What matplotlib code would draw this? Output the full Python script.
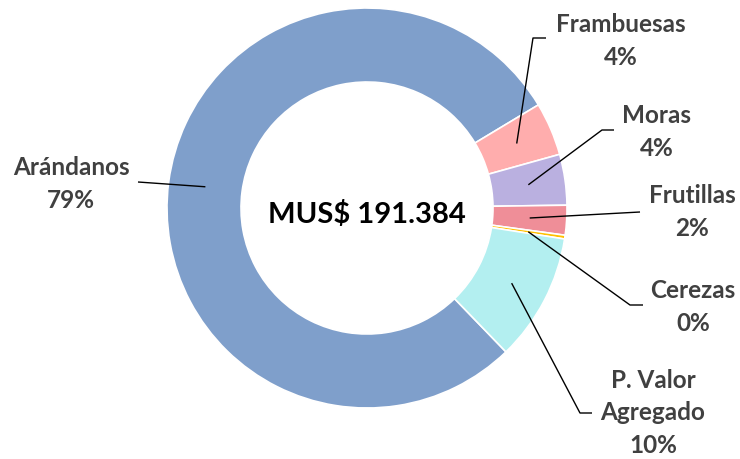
import matplotlib.pyplot as plt
import numpy as np

W, H = 740, 459

categories = ["Arándanos", "Frambuesas", "Moras", "Frutillas", "Cerezas", "P. Valor\nAgregado"]
shares = [78.6, 4.3, 4.1, 2.4, 0.3, 10.3]
colors = ["#7F9FCB", "#FFADAD", "#BAB0E0", "#EF8E98", "#FFC000", "#B3EFF0"]
total_label = "MUS$ 191.384"

# layout in image pixels (y from top)
center = (367, 208)
r_out, r_in = 200, 126
label_pos = [(71, 184), (621, 41), (657, 132), (692, 212), (693, 307), (653, 413)]
elbows = [
    [(138, 182)],
    [(533, 38), (546, 38)],
    [(602, 130), (614, 130)],
    [(640, 212)],
    [(630, 305), (643, 305)],
    [(580, 413), (592, 413)],
]


def fy(y):
    return H - y


fig = plt.figure(figsize=(W / 100, H / 100), dpi=100)
ax = fig.add_axes([0, 0, 1, 1])

wedges, _ = ax.pie(
    shares,
    colors=colors,
    startangle=-46,
    counterclock=False,
    radius=r_out,
    center=(center[0], fy(center[1])),
    wedgeprops=dict(width=r_out - r_in, edgecolor="white", linewidth=1.2),
)
ax.set_xlim(0, W)
ax.set_ylim(0, H)
ax.set_aspect("equal")
ax.axis("off")

r_mid = (r_out + r_in) / 2
for w, cat, val, pos, pts in zip(wedges, categories, shares, label_pos, elbows):
    ang = np.deg2rad((w.theta1 + w.theta2) / 2)
    ax_x = center[0] + r_mid * np.cos(ang)
    ax_y = fy(center[1]) + r_mid * np.sin(ang)
    xs = [ax_x] + [p[0] for p in pts]
    ys = [ax_y] + [fy(p[1]) for p in pts]
    ax.plot(xs, ys, color="black", linewidth=1.0, solid_capstyle="butt")
    ax.text(pos[0], fy(pos[1]), f"{cat}\n{val:.0f}%", ha="center", va="center",
            fontsize=17.5, fontweight="bold", family="Lato", color="#404040",
            linespacing=1.5)

ax.text(center[0], fy(center[1]) - 6, total_label, ha="center", va="center",
        fontsize=21, fontweight="bold", family="Lato", color="black")

fig.savefig("out.png", dpi=100)
